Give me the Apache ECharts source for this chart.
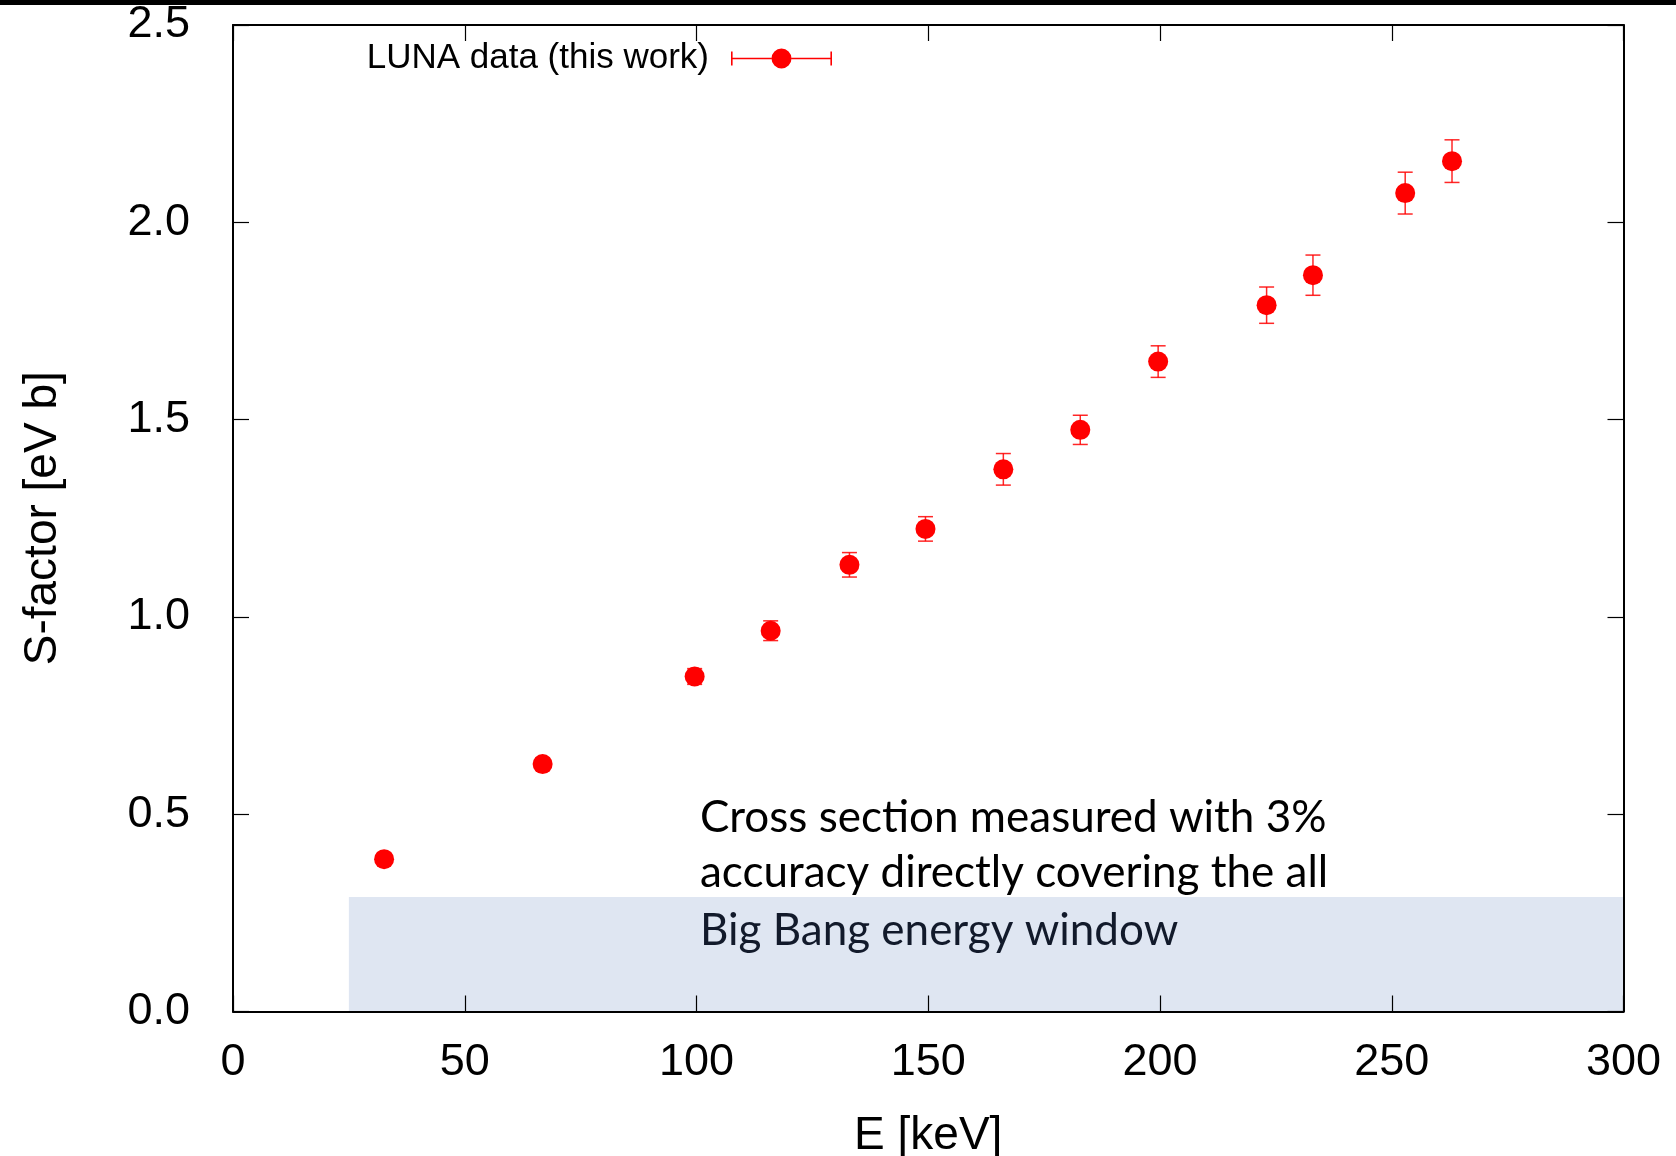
<!DOCTYPE html>
<html>
<head>
<meta charset="utf-8">
<title>LUNA S-factor</title>
<script src="https://cdn.jsdelivr.net/npm/echarts@6/dist/echarts.min.js"></script>
<style>
  html, body { margin: 0; padding: 0; background: #fff; }
  #chart { width: 1676px; height: 1156px; }
  #topbar { position: absolute; left: 0; top: 0; width: 1676px; height: 5px; background: #000; z-index: 5; }
</style>
</head>
<body>
<div id="topbar"></div>
<div id="chart"></div>
<script>
// Measured S-factor vs centre-of-mass energy
const energy  = [32.6, 66.8, 99.6, 116.0, 133.0, 149.4, 166.2, 182.8, 199.6, 223.0, 233.0, 252.9, 263.0];
const sFactor = [0.386, 0.627, 0.849, 0.965, 1.132, 1.223, 1.374, 1.474, 1.647, 1.790, 1.866, 2.074, 2.155];
const sError  = [0.010, 0.015, 0.020, 0.025, 0.031, 0.031, 0.040, 0.037, 0.040, 0.046, 0.051, 0.053, 0.054];

// Big Bang energy window band: [E from, E to], [S from, S to]
const windowE = [25, 300];
const windowS = [0, 0.29];

const seriesName = 'LUNA data (this work)';
const noteLines = [
  'Cross section measured with 3%',
  'accuracy directly covering the all',
  'Big Bang energy window'
];

const axisFont = 'Liberation Sans';
const points = energy.map((e, i) => [e, sFactor[i]]);
const errPoints = energy.map((e, i) => [e, sFactor[i], sError[i]]);

const chart = echarts.init(document.getElementById('chart'), null, { renderer: 'canvas' });

const frameAxis = {
  axisLine: { show: true, onZero: false, lineStyle: { color: '#000', width: 2 } },
  axisTick: { show: true, inside: true, length: 16, lineStyle: { color: '#000', width: 1.2 } },
  splitLine: { show: false },
  z: 10
};

// Legend icon: horizontal error bar with caps and a filled dot
const legendIcon = 'path://M0,3L1.6,3L1.6,9.3L40.5,9.3L40.5,10.7L1.6,10.7L1.6,17L0,17Z' +
  'M101,3L99.4,3L99.4,9.3L60.5,9.3L60.5,10.7L99.4,10.7L99.4,17L101,17Z' +
  'M40.5,10A10,10 0 1,1 60.5,10A10,10 0 1,1 40.5,10Z';

chart.setOption({
  animation: false,
  backgroundColor: '#fff',
  grid: { left: 233, right: 52.5, top: 25, bottom: 144.5, show: false,
          containLabel: false, outerBoundsMode: 'none' },
  legend: {
    data: [{ name: seriesName, icon: legendIcon }],
    right: 839,
    top: 36,
    itemWidth: 101,
    itemHeight: 20,
    align: 'right',
    selectedMode: false,
    textStyle: { fontFamily: axisFont, fontSize: 35, color: '#000', padding: [0, 17, 0, 0] }
  },
  xAxis: [
    Object.assign({}, frameAxis, {
      type: 'value', position: 'bottom', min: 0, max: 300, interval: 50,
      axisLabel: { fontFamily: axisFont, fontSize: 45, color: '#000', margin: 29 },
      name: 'E [keV]', nameLocation: 'middle', nameGap: 102,
      nameTextStyle: { fontFamily: axisFont, fontSize: 46, color: '#000' }
    }),
    Object.assign({}, frameAxis, {
      type: 'value', position: 'top', min: 0, max: 300, interval: 50,
      axisLabel: { show: false }
    })
  ],
  yAxis: [
    Object.assign({}, frameAxis, {
      type: 'value', position: 'left', min: 0, max: 2.5, interval: 0.5,
      axisLabel: { fontFamily: axisFont, fontSize: 45, color: '#000', margin: 43,
                   formatter: v => v.toFixed(1) },
      name: 'S-factor [eV b]', nameLocation: 'middle', nameGap: 167, nameRotate: 90,
      nameTextStyle: { fontFamily: axisFont, fontSize: 46, color: '#000' }
    }),
    Object.assign({}, frameAxis, {
      type: 'value', position: 'right', min: 0, max: 2.5, interval: 0.5,
      axisLabel: { show: false }
    })
  ],
  series: [
    {
      type: 'custom',
      name: 'errors',
      xAxisIndex: 0, yAxisIndex: 0,
      z: 3,
      silent: true,
      data: errPoints,
      encode: { x: 0, y: 1 },
      renderItem: function (params, api) {
        const x = api.value(0), y = api.value(1), e = api.value(2);
        const hi = api.coord([x, y + e]);
        const lo = api.coord([x, y - e]);
        const cap = 7.5;
        const style = { stroke: '#ff0000', lineWidth: 1.5, opacity: 0.85 };
        return {
          type: 'group',
          children: [
            { type: 'line', shape: { x1: hi[0], y1: hi[1], x2: lo[0], y2: lo[1] }, style: style },
            { type: 'line', shape: { x1: hi[0] - cap, y1: hi[1], x2: hi[0] + cap, y2: hi[1] }, style: style },
            { type: 'line', shape: { x1: lo[0] - cap, y1: lo[1], x2: lo[0] + cap, y2: lo[1] }, style: style }
          ]
        };
      }
    },
    {
      type: 'scatter',
      name: seriesName,
      xAxisIndex: 0, yAxisIndex: 0,
      z: 4,
      symbol: 'circle',
      symbolSize: 20,
      itemStyle: { color: '#ff0000', opacity: 1 },
      data: points,
      markArea: {
        silent: true,
        itemStyle: { color: '#dfe6f2', opacity: 1 },
        data: [[
          { xAxis: windowE[0], yAxis: windowS[0] },
          { xAxis: windowE[1], yAxis: windowS[1] }
        ]]
      }
    }
  ],
  graphic: noteLines.map((t, i) => ({
    type: 'text',
    x: 700,
    y: [818, 873, 931][i],
    z: 20,
    style: {
      text: t,
      font: '44px Lato',
      fill: i === 2 ? '#121a2b' : '#000',
      align: 'left',
      verticalAlign: 'middle'
    }
  }))
});
</script>
</body>
</html>
